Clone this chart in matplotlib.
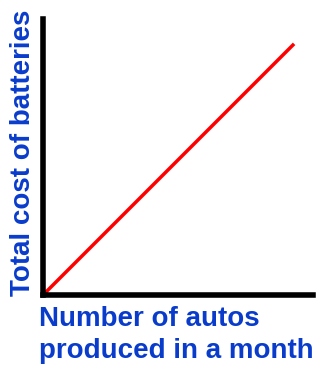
import matplotlib
matplotlib.use("Agg")
from matplotlib import pyplot as plt

# data
autos = [0, 93]
cost = [0, 91]
x_label = "Number of autos\nproduced in a month"
y_label = "Total cost of batteries"

blue = "#0a3ccc"

fig = plt.figure(figsize=(3.19, 3.67), dpi=100)
ax = fig.add_axes([43/319, 1-295/367, 270/319, 276/367])
ax.plot(autos, cost, color="#ff0000", linewidth=2.5, solid_capstyle="butt", clip_on=False)
ax.set_xlim(0, 100)
ax.set_ylim(0, 100)
ax.spines["top"].set_visible(False)
ax.spines["right"].set_visible(False)
ax.spines["left"].set_linewidth(4)
ax.spines["bottom"].set_linewidth(4)
ax.set_xticks([])
ax.set_yticks([])

fig.text(39/319, 1-306/367, x_label, ha="left", va="top", color=blue,
         fontsize=20, fontweight="bold", family="Liberation Sans", linespacing=1.31)
fig.text(23/319, 1-153/367, y_label, ha="center", va="center", rotation=90, color=blue,
         fontsize=20, fontweight="bold", family="Liberation Sans")

fig.savefig("out.png", dpi=100)
